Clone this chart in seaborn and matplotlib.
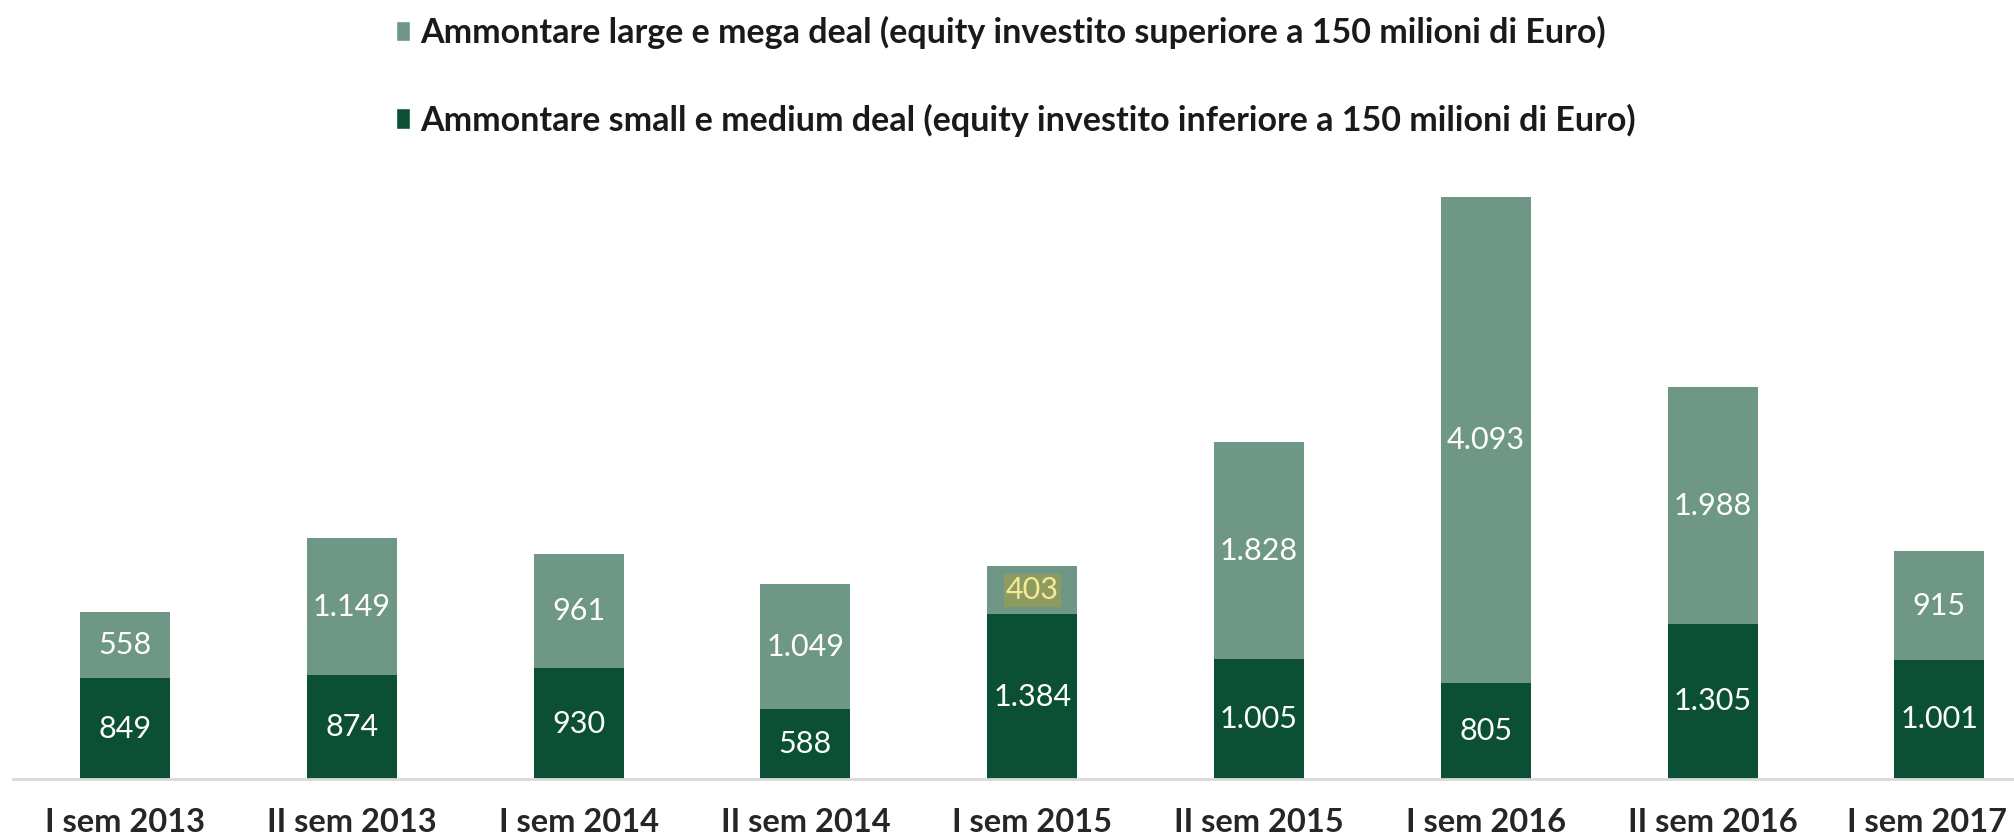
#!/usr/bin/env python
# coding: utf-8

import pandas as pd
import seaborn as sns
from matplotlib import pyplot as plt
from matplotlib.patches import Patch
from matplotlib.transforms import ScaledTranslation

# Semesters and amounts (milioni di Euro)
semesters = ['I sem 2013', 'II sem 2013', 'I sem 2014', 'II sem 2014', 'I sem 2015',
             'II sem 2015', 'I sem 2016', 'II sem 2016', 'I sem 2017']
small_medium = [849, 874, 930, 588, 1384, 1005, 805, 1305, 1001]
large_mega = [558, 1149, 961, 1049, 403, 1828, 4093, 1988, 915]

label_large = 'Ammontare large e mega deal (equity investito superiore a 150 milioni di Euro)'
label_small = 'Ammontare small e medium deal (equity investito inferiore a 150 milioni di Euro)'

light_green = '#6f9785'
dark_green = '#0b5035'


def it_fmt(v):
    # italian thousands separator
    return f'{v:,}'.replace(',', '.')


df = pd.DataFrame({'semestre': semesters, 'small': small_medium, 'large': large_mega})
df['totale'] = df['small'] + df['large']

sns.set_style('white')
plt.rcParams['font.family'] = ['Lato', 'DejaVu Sans']

fig = plt.figure(figsize=(20.14, 8.39), dpi=100)
ax = fig.add_axes([13 / 2014, 60 / 839, 1 - 13 / 2014, 594.6 / 839])

# light bar is the total, the dark bar covers the small/medium part
sns.barplot(data=df, x='semestre', y='totale', color=light_green, width=0.397,
            saturation=1, linewidth=0, ax=ax)
sns.barplot(data=df, x='semestre', y='small', color=dark_green, width=0.397,
            saturation=1, linewidth=0, ax=ax)

ax.set_xlim(-0.494, 8.329)
ax.set_ylim(0, 5000)
ax.set_xlabel('')
ax.set_ylabel('')
ax.set_yticks([])

# value labels
ax.bar_label(ax.containers[1], labels=[it_fmt(v) for v in small_medium],
             label_type='center', color='white', fontsize=22)
for i, (s, l) in enumerate(zip(small_medium, large_mega)):
    if l == 403:
        ax.text(i, s + l / 2, it_fmt(l), ha='center', va='center', fontsize=22,
                color='#f3ea94',
                bbox=dict(facecolor='#8d9b60', edgecolor='none', pad=1.5))
    else:
        ax.text(i, s + l / 2, it_fmt(l), ha='center', va='center', fontsize=22,
                color='white')

for sp in ['top', 'left', 'right']:
    ax.spines[sp].set_visible(False)
ax.spines['bottom'].set_color('#d9d9d9')
ax.spines['bottom'].set_linewidth(2)

ax.tick_params(axis='x', length=0, pad=21, labelsize=23.5, labelcolor='#262626')
tick_labels = ax.get_xticklabels()
for t in tick_labels:
    t.set_fontweight('bold')
# last label is pushed inside the figure, like the original
tick_labels[-1].set_transform(tick_labels[-1].get_transform()
                              + ScaledTranslation(-0.12, 0, fig.dpi_scale_trans))

handles = [Patch(facecolor=light_green), Patch(facecolor=dark_green)]
fig.legend(handles, [label_large, label_small], loc='upper left',
           bbox_to_anchor=(396 / 2014, 1 - 16 / 839), frameon=False,
           prop={'size': 24.5, 'weight': 'bold'},
           handlelength=0.42, handleheight=0.55, handletextpad=0.3, labelspacing=1.6,
           borderaxespad=0, borderpad=0, labelcolor='#1a1a1a')

plt.savefig('out.png', dpi=100)
